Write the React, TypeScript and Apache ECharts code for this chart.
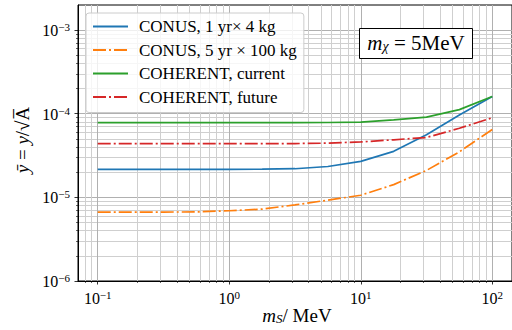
import React, { useEffect, useRef } from 'react';
import * as echarts from 'echarts';

// m_S values (MeV), quarter-decade sampling
const massMeV = [0.1, 0.178, 0.316, 0.562, 1, 1.78, 3.16, 5.62, 10, 17.8, 31.6, 56.2, 100];
const conus1yr4kg = [2.16e-5, 2.16e-5, 2.16e-5, 2.16e-5, 2.16e-5, 2.17e-5, 2.2e-5, 2.34e-5, 2.69e-5, 3.55e-5, 5.6e-5, 9.65e-5, 1.61e-4];
const conus5yr100kg = [6.67e-6, 6.67e-6, 6.67e-6, 6.7e-6, 6.92e-6, 7.23e-6, 8.13e-6, 9.26e-6, 1.06e-5, 1.42e-5, 2.1e-5, 3.5e-5, 6.49e-5];
const coherentCurrent = [7.81e-5, 7.81e-5, 7.81e-5, 7.81e-5, 7.81e-5, 7.81e-5, 7.82e-5, 7.85e-5, 7.94e-5, 8.43e-5, 9.1e-5, 1.12e-4, 1.61e-4];
const coherentFuture = [4.38e-5, 4.38e-5, 4.38e-5, 4.38e-5, 4.38e-5, 4.38e-5, 4.4e-5, 4.45e-5, 4.6e-5, 4.88e-5, 5.2e-5, 6.7e-5, 8.96e-5];

const seriesNames = ['CONUS, 1 yr\u00d7 4 kg', 'CONUS, 5 yr \u00d7 100 kg', 'COHERENT, current', 'COHERENT, future'];
const seriesColors = ['#1f77b4', '#ff7f0e', '#2ca02c', '#d62728'];
const seriesValues = [conus1yr4kg, conus5yr100kg, coherentCurrent, coherentFuture];
const seriesDashed = [false, true, false, true];

const xMajorTicks = [0.1, 1, 10, 100];
const yMajorTicks = [1e-6, 1e-5, 1e-4, 1e-3];

const X_MIN = Math.pow(10, -1.15);
const X_MAX = Math.pow(10, 2.15);
const Y_MIN = 1e-6;
const Y_MAX = Math.pow(10, -2.7);

const FONT = '"Liberation Serif", serif';

function minorValues(lo: number, hi: number): number[] {
  const out: number[] = [];
  for (let d = Math.floor(Math.log10(lo)); d <= Math.ceil(Math.log10(hi)); d++) {
    for (let m = 2; m <= 9; m++) {
      const v = parseFloat((m * Math.pow(10, d)).toPrecision(6));
      if (v >= lo && v <= hi) out.push(v);
    }
  }
  return out;
}

const powLabel = (v: number) => {
  const e = Math.round(Math.log10(v));
  return `{b|10}{s|${e < 0 ? '\u2212' : ''}${Math.abs(e)}}`;
};

const tickRich = {
  b: { fontSize: 16, lineHeight: 17, verticalAlign: 'bottom', fontFamily: FONT, color: '#000' },
  s: { fontSize: 11, lineHeight: 10, verticalAlign: 'top', fontFamily: FONT, color: '#000' },
};

const mathRich = (size: number) => ({
  i: { fontFamily: FONT, fontSize: size, fontStyle: 'italic', lineHeight: size, verticalAlign: 'top' },
  sub: { fontFamily: FONT, fontSize: Math.round(size * 0.68), fontStyle: 'italic', lineHeight: Math.round(size * 0.68), verticalAlign: 'bottom' },
  n: { fontFamily: FONT, fontSize: size, lineHeight: size, verticalAlign: 'top' },
});

export default function App() {
  const ref = useRef<HTMLDivElement>(null);
  useEffect(() => {
    if (!ref.current) return;
    const chart = echarts.init(ref.current, null, { renderer: 'svg' });
    const dash = [13, 3, 2, 3];
    const series: any[] = seriesNames.map((name, i) => ({
      name,
      type: 'line',
      xAxisIndex: 0,
      yAxisIndex: 0,
      symbol: 'none',
      data: massMeV.map((x, j) => [x, seriesValues[i][j]]),
      lineStyle: { color: seriesColors[i], width: 1.7, type: seriesDashed[i] ? dash : 'solid' },
      itemStyle: { color: seriesColors[i] },
      z: 5,
    }));
    const option: any = {
      animation: false,
      grid: { left: 78, top: 5, right: -5, bottom: 49, show: true, borderColor: '#000', borderWidth: 1, backgroundColor: 'transparent' },
      xAxis: [
        {
          type: 'log', min: X_MIN, max: X_MAX, position: 'bottom',
          axisLine: { show: true, lineStyle: { color: '#000', width: 1 } },
          axisTick: { show: true, customValues: xMajorTicks, length: 3.5, lineStyle: { color: '#000', width: 0.8 } },
          axisLabel: { customValues: xMajorTicks, formatter: powLabel, rich: tickRich, margin: 8, verticalAlign: 'top' },
          splitLine: { show: true, lineStyle: { color: '#b0b0b0', width: 1 } },
        },
        {
          type: 'log', min: X_MIN, max: X_MAX, position: 'bottom', gridIndex: 0,
          axisLine: { show: false },
          axisTick: { show: true, customValues: minorValues(X_MIN, X_MAX), length: 2, lineStyle: { color: '#000', width: 0.6 } },
          axisLabel: { show: false },
          splitLine: { show: true, lineStyle: { color: '#cfcfcf', width: 1 } },
        },
      ],
      yAxis: [
        {
          type: 'log', min: Y_MIN, max: Y_MAX, position: 'left',
          axisLine: { show: true, lineStyle: { color: '#000', width: 1 } },
          axisTick: { show: true, customValues: yMajorTicks, length: 3.5, lineStyle: { color: '#000', width: 0.8 } },
          axisLabel: { customValues: yMajorTicks, formatter: powLabel, rich: tickRich, margin: 8 },
          splitLine: { show: true, lineStyle: { color: '#b0b0b0', width: 1 } },
        },
        {
          type: 'log', min: Y_MIN, max: Y_MAX, position: 'left', gridIndex: 0,
          axisLine: { show: false },
          axisTick: { show: true, customValues: minorValues(Y_MIN, Y_MAX), length: 2, lineStyle: { color: '#000', width: 0.6 } },
          axisLabel: { show: false },
          splitLine: { show: true, lineStyle: { color: '#cfcfcf', width: 1 } },
        },
      ],
      legend: {
        orient: 'vertical', left: 86, top: 13, padding: [5, 7, 7, 6], itemGap: 6.5,
        itemWidth: 35, itemHeight: 14,
        backgroundColor: 'rgba(255,255,255,0.8)', borderColor: '#cccccc', borderWidth: 1, borderRadius: 3,
        itemStyle: { opacity: 0 },
        textStyle: { fontFamily: FONT, fontSize: 17, lineHeight: 14, height: 14, color: '#000', padding: [0, 0, 0, 6] },
        data: seriesNames,
        z: 20,
      },
      graphic: [
        {
          type: 'text', x: 22, y: 140, rotation: Math.PI / 2, z: 30,
          style: {
            text: '{i|\u0233} = {i|y}/\u221aA\u0305',
            fontFamily: FONT, fontSize: 19, fill: '#000', align: 'center', verticalAlign: 'middle',
            rich: { i: { fontFamily: FONT, fontSize: 19, fontStyle: 'italic' } },
          },
        },
        {
          type: 'text', x: 297, y: 315, z: 30,
          style: {
            text: '{i|m}{sub|S}{n|/ MeV}',
            fill: '#000', align: 'center', verticalAlign: 'middle',
            rich: mathRich(19),
          },
        },
        {
          type: 'rect', z: 30,
          shape: { x: 359.5, y: 28.5, width: 113, height: 30 },
          style: { fill: '#fff', stroke: '#000', lineWidth: 1 },
        },
        {
          type: 'text', x: 416, y: 43, z: 31,
          style: {
            text: '{i|m}{sub|\u03c7}{n| = 5MeV}',
            fill: '#000', align: 'center', verticalAlign: 'middle',
            rich: mathRich(21),
          },
        },
      ],
      series,
    };
    chart.setOption(option);
    return () => chart.dispose();
  }, []);
  return <div ref={ref} style={{ position: 'absolute', left: 0, top: 0, width: 512, height: 330, background: '#fff' }} />;
}
